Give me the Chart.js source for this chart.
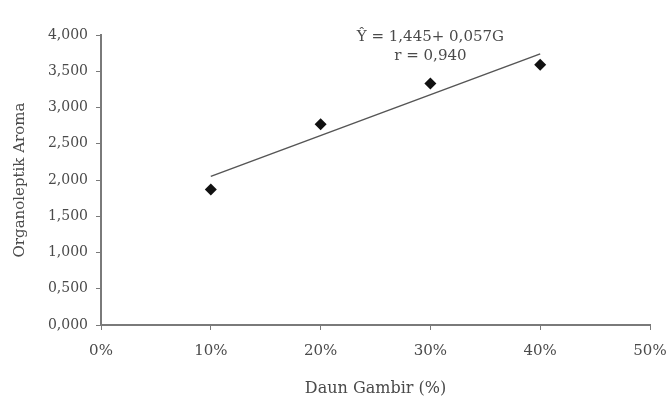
<!DOCTYPE html>
<html>
<head>
<meta charset="utf-8">
<script src="https://cdn.jsdelivr.net/npm/chart.js@4"></script>
<style>
  html, body { margin: 0; padding: 0; background: #fff; }
  #wrap { width: 667px; height: 410px; position: relative; }
</style>
</head>
<body>
<div id="wrap"><canvas id="chart"></canvas></div>
<script>
// values
var doses = [10, 20, 30, 40];
var aroma = [1.87, 2.77, 3.33, 3.59];
var trendX = [10, 40];
var trendY = [2.05, 3.74];
var equationLines = ['Ŷ = 1,445+ 0,057G', 'r = 0,940'];

var textColor = '#4a4a4a';
var axisColor = '#7a7a7a';
var serif = '"DejaVu Serif", "Liberation Serif", serif';

var equationPlugin = {
  id: 'equation',
  afterDraw: function (chart) {
    var ctx = chart.ctx;
    var xs = chart.scales.x;
    var ys = chart.scales.y;
    ctx.save();
    ctx.fillStyle = textColor;
    ctx.font = '15px ' + serif;
    ctx.textAlign = 'center';
    ctx.textBaseline = 'middle';
    ctx.fillText(equationLines[0], xs.getPixelForValue(30), ys.getPixelForValue(3.97));
    ctx.fillText(equationLines[1], xs.getPixelForValue(30), ys.getPixelForValue(3.71));
    ctx.restore();
  }
};

new Chart(document.getElementById('chart'), {
  type: 'scatter',
  data: {
    datasets: [
      {
        label: 'Aroma',
        data: doses.map(function (d, i) { return { x: d, y: aroma[i] }; }),
        pointStyle: 'rectRot',
        pointRadius: 6,
        backgroundColor: '#111',
        borderColor: '#111',
        borderWidth: 0,
        showLine: false
      },
      {
        label: 'Trend',
        data: trendX.map(function (d, i) { return { x: d, y: trendY[i] }; }),
        showLine: true,
        pointRadius: 0,
        borderColor: '#555',
        borderWidth: 1.5,
        fill: false
      }
    ]
  },
  options: {
    responsive: true,
    maintainAspectRatio: false,
    animation: false,
    layout: { padding: { top: 35, right: 17, left: 0, bottom: 0 } },
    plugins: {
      legend: { display: false },
      tooltip: { enabled: false }
    },
    scales: {
      x: {
        type: 'linear',
        min: 0,
        max: 50,
        afterFit: function (scale) {
          scale.height = 85;
          scale.paddingLeft = 0;
          scale.paddingRight = 0;
        },
        border: { color: axisColor, width: 2 },
        grid: { drawOnChartArea: false, tickLength: 5, color: axisColor },
        ticks: {
          stepSize: 10,
          color: textColor,
          font: { family: serif, size: 15 },
          padding: 12,
          maxRotation: 0,
          callback: function (v) { return v + '%'; }
        },
        title: {
          display: true,
          text: 'Daun Gambir (%)',
          color: textColor,
          font: { family: serif, size: 16 },
          padding: { top: 4, bottom: 12 }
        }
      },
      y: {
        min: 0,
        max: 4,
        afterFit: function (scale) {
          scale.width = 101;
          scale.paddingTop = 0;
          scale.paddingBottom = 0;
        },
        border: { color: axisColor, width: 2 },
        grid: { drawOnChartArea: false, tickLength: 5, color: axisColor },
        ticks: {
          stepSize: 0.5,
          color: textColor,
          font: { family: serif, size: 14 },
          padding: 8,
          callback: function (v) { return v.toFixed(3).replace('.', ','); }
        },
        title: {
          display: true,
          text: 'Organoleptik Aroma',
          color: textColor,
          font: { family: serif, size: 15 },
          padding: { top: 11, bottom: 0 }
        }
      }
    }
  },
  plugins: [equationPlugin]
});
</script>
</body>
</html>
